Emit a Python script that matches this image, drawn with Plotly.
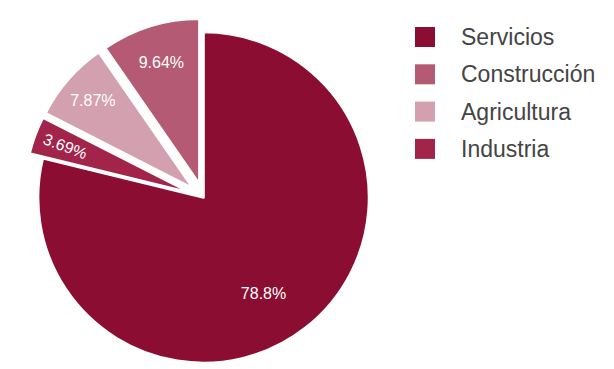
import plotly.graph_objects as go

# Data
labels = ["Servicios", "Construcción", "Agricultura", "Industria"]
values = [78.8, 9.64, 7.87, 3.69]
colors = ["#8b0d32", "#b55a74", "#d3a0b0", "#a2244b"]
pulls = [0, 0.085, 0.085, 0.085]

W, H = 614, 369
MT, MB = 10, 0

fig = go.Figure()
fig.add_trace(go.Pie(
    labels=labels,
    values=values,
    sort=False,
    direction="counterclockwise",
    rotation=0,
    pull=pulls,
    marker=dict(colors=colors, line=dict(color="white", width=2.5)),
    texttemplate=["&nbsp;<br>" * 3 + "&nbsp;" * 4 + "%{percent}",
                  "%{percent}", "%{percent}", "%{percent}"],
    textposition="inside",
    insidetextorientation="auto",
    textfont=dict(color="white", size=16, family="Liberation Sans, Arial, sans-serif"),
    domain=dict(x=[0, 0.637], y=[0, 1]),
    showlegend=False,
    hoverinfo="label+percent",
))


def py(ypix):
    # convert a pixel row (from top of figure) to paper coordinate
    return 1 - (ypix - MT) / (H - MT - MB)


# Legend drawn as shapes + text
sq = 20
x_sq = 407
x_txt = 451
y0 = 29
step = 37.3
for i, (lab, col) in enumerate(zip(labels, colors)):
    yc = y0 + i * step
    fig.add_shape(type="rect", xref="paper", yref="paper",
                  x0=x_sq / W, x1=(x_sq + sq) / W,
                  y0=py(yc + sq / 2), y1=py(yc - sq / 2),
                  fillcolor=col, line=dict(width=0))
    fig.add_annotation(xref="paper", yref="paper", x=x_txt / W, y=py(yc),
                       text=lab, showarrow=False, xanchor="left", yanchor="middle",
                       font=dict(size=23, color="#444444", family="Liberation Sans, Arial, sans-serif"))

fig.update_layout(
    width=W, height=H,
    margin=dict(l=0, r=0, t=MT, b=MB),
    paper_bgcolor="white",
    plot_bgcolor="white",
)

fig.write_html("out.html")
